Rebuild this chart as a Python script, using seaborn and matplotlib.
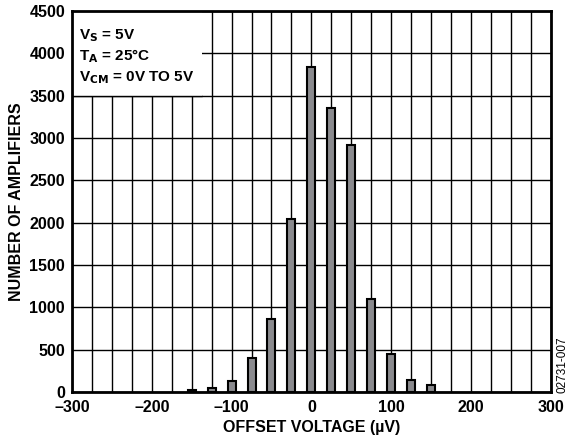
import numpy as np
import pandas as pd
import seaborn as sns
import matplotlib.pyplot as plt

# offset voltage bins (uV) and counts
offset_uv = [-150, -125, -100, -75, -50, -25, 0, 25, 50, 75, 100, 125, 150]
n_amps = [25, 44, 135, 405, 860, 2040, 3840, 3350, 2915, 1100, 452, 138, 78]

x_ticks = [-300, -200, -100, 0, 100, 200, 300]
x_labels = ["\u2013300", "\u2013200", "\u2013100", "0", "100", "200", "300"]
y_ticks = [0, 500, 1000, 1500, 2000, 2500, 3000, 3500, 4000, 4500]

df = pd.DataFrame({"offset": offset_uv, "count": n_amps})

sns.set_style("white", {"text.color": "black", "axes.labelcolor": "black",
                        "xtick.color": "black", "ytick.color": "black"})
plt.rcParams["font.family"] = ["Liberation Sans", "DejaVu Sans"]
plt.rcParams["font.weight"] = "bold"

fig = plt.figure(figsize=(5.69, 4.43), dpi=100)
ax = fig.add_axes([0.1265, 0.115, 0.8415, 0.86])

sns.barplot(
    data=df, x="offset", y="count", native_scale=True, width=0.4,
    color="#8a8a8e", edgecolor="black", linewidth=1.5, saturation=1,
    ax=ax, zorder=3,
)

ax.set_xlim(-300, 300)
ax.set_ylim(0, 4500)
ax.set_xticks(x_ticks)
ax.set_xticklabels(x_labels)
ax.set_yticks(y_ticks)
ax.set_xticks(np.arange(-300, 301, 25), minor=True)
ax.grid(True, which="major", color="black", linewidth=1.0, zorder=1)
ax.grid(True, which="minor", axis="x", color="black", linewidth=1.0, zorder=1)
ax.set_axisbelow(True)
ax.tick_params(which="both", length=0, labelsize=11.5, labelcolor="black")
ax.tick_params(axis="x", pad=6)
ax.tick_params(axis="y", pad=5)
for lab in ax.get_xticklabels() + ax.get_yticklabels():
    lab.set_fontweight("bold")

for s in ax.spines.values():
    s.set_color("black")
    s.set_linewidth(2)

ax.set_xlabel("OFFSET VOLTAGE (\u00b5V)", fontsize=11.5, fontweight="bold",
              labelpad=3, color="black")
ax.set_ylabel("NUMBER OF AMPLIFIERS", fontsize=11.5, fontweight="bold",
              labelpad=4, color="black")

# white box behind the conditions text
ax.axvspan(-300, -137, ymin=3500 / 4500, ymax=1, facecolor="white",
           edgecolor="none", zorder=2)
ax.axhline(3500, xmin=0, xmax=163 / 600, color="black", linewidth=1.0, zorder=2.5)
ax.text(-291, 4215, "V$_\\mathbf{S}$ = 5V", fontsize=11, fontweight="bold",
        va="center", zorder=4, color="black")
ax.text(-291, 3965, "T$_\\mathbf{A}$ = 25\u00b0C", fontsize=11, fontweight="bold",
        va="center", zorder=4, color="black")
ax.text(-291, 3715, "V$_\\mathbf{CM}$ = 0V TO 5V", fontsize=11, fontweight="bold",
        va="center", zorder=4, color="black")

fig.text(0.989, 0.176, "02731-007", rotation=90, fontsize=8.5, fontweight="normal",
         ha="center", va="center", color="black")

fig.savefig("out.png", dpi=100)
